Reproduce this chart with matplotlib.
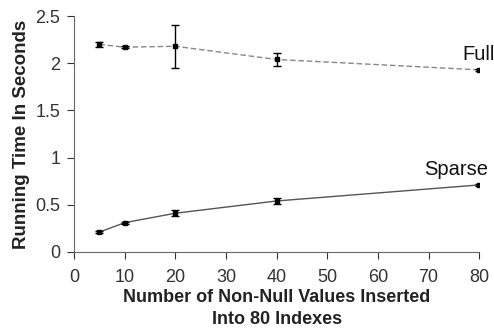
import matplotlib.pyplot as plt

plt.rcParams['font.family'] = ['Liberation Sans', 'DejaVu Sans']

# Значения
n_values = [5, 10, 20, 40, 80]
full_time = [2.20, 2.17, 2.18, 2.04, 1.93]
full_err = [0.03, 0.01, 0.23, 0.07, 0.01]
sparse_time = [0.21, 0.31, 0.41, 0.54, 0.71]
sparse_err = [0.01, 0.01, 0.03, 0.03, 0.01]

fig = plt.figure(figsize=(4.94, 3.28), dpi=100)
ax = fig.add_axes([0.150, 0.232, 0.820, 0.719])

ax.plot(n_values, full_time, '--', color='#888888', linewidth=1, dashes=(4, 2))
ax.errorbar(n_values, full_time, yerr=full_err, fmt='s', color='black',
            markersize=3, elinewidth=1, capsize=3, capthick=1)

ax.plot(n_values, sparse_time, '-', color='#555555', linewidth=1)
ax.errorbar(n_values, sparse_time, yerr=sparse_err, fmt='s', color='black',
            markersize=3, elinewidth=1, capsize=3, capthick=1)

ax.text(76.7, 2.09, 'Full', fontsize=14.5, va='center', ha='left', clip_on=False,
        color='#111111')
ax.text(69.2, 0.87, 'Sparse', fontsize=14.5, va='center', ha='left', clip_on=False,
        color='#111111')

ax.set_xlim(0, 80)
ax.set_ylim(0, 2.5)
ax.set_xticks(range(0, 81, 10))
ax.set_yticks([0, 0.5, 1, 1.5, 2, 2.5])
ax.set_yticklabels(['0', '0.5', '1', '1.5', '2', '2.5'])

for side in ['top', 'right']:
    ax.spines[side].set_visible(False)
for side in ['left', 'bottom']:
    ax.spines[side].set_color('#666666')
ax.tick_params(direction='out', length=5, color='#333333', labelsize=13,
               labelcolor='#333333')
ax.tick_params(axis='x', pad=7)
ax.tick_params(axis='y', pad=5)

# подпись оси X в две строки, каждая строка отдельно
xlab_x = 0.560
fig.text(xlab_x, 0.094, 'Number of Non-Null Values Inserted', fontsize=13,
         fontweight='bold', ha='center', va='center', color='#222222')
fig.text(xlab_x, 0.026, 'Into 80 Indexes', fontsize=13,
         fontweight='bold', ha='center', va='center', color='#222222')
ax.set_ylabel('Running Time In Seconds', fontsize=13.5, fontweight='bold',
              labelpad=4, color='#222222')

plt.savefig('out.png', dpi=100)
